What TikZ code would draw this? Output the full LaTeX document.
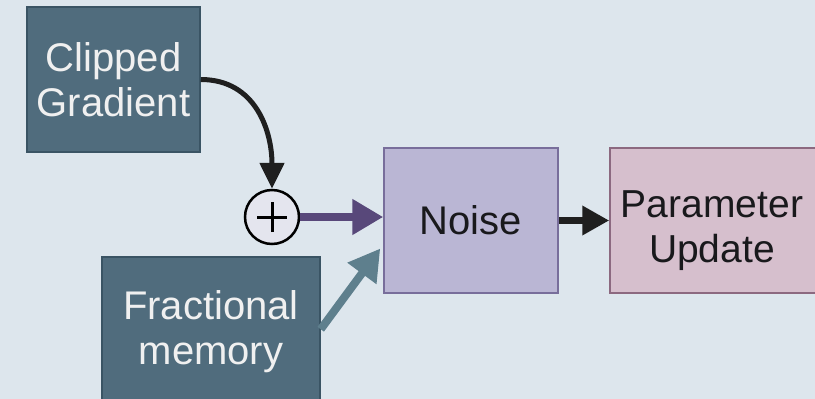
\documentclass[tikz,border=0pt]{standalone}
\usepackage{fontspec}
\setmainfont{Liberation Sans}
\usetikzlibrary{arrows.meta}

\definecolor{bgcol}{RGB}{221,230,237}
\definecolor{slatefill}{RGB}{80,108,125}
\definecolor{slateedge}{RGB}{58,84,100}
\definecolor{noisefill}{RGB}{186,182,212}
\definecolor{noiseedge}{RGB}{120,110,155}
\definecolor{paramfill}{RGB}{214,191,205}
\definecolor{paramedge}{RGB}{140,105,128}
\definecolor{sumfill}{RGB}{228,229,238}
\definecolor{purplearrow}{RGB}{88,72,122}
\definecolor{tealarrow}{RGB}{94,127,141}
\definecolor{inktext}{RGB}{25,25,28}

\tikzset{
  box/.style={draw, line width=1.5pt, rectangle, inner sep=0pt,
    align=center, font=\fontsize{40}{45}\selectfont},
  slatebox/.style={box, fill=slatefill, draw=slateedge, text=white!94!black},
  noisebox/.style={box, fill=noisefill, draw=noiseedge, text=inktext},
  parambox/.style={box, fill=paramfill, draw=paramedge, text=inktext},
  label/.style={inner sep=0pt, align=center, font=\fontsize{39}{45}\selectfont, text=inktext},
  sum/.style={circle, draw=black, line width=2.5pt, fill=sumfill,
    minimum size=54pt, inner sep=0pt},
  flow/.style={line width=8pt, -{Triangle[width=34pt,length=31pt]}},
}

\begin{document}
\begin{tikzpicture}[x=1pt,y=-1pt]
  \useasboundingbox (0,0) rectangle (815,399);
  \clip (0,0) rectangle (815,399);
  \fill[bgcol] (0,0) rectangle (815,399);

  % input blocks
  \node[slatebox, minimum width=173pt, minimum height=145pt] (cg) at (113.5,79.5)
    {Clipped\\Gradient};
  \node[slatebox, minimum width=218pt, minimum height=150pt] (fm) at (211,332)
    {Fractional\\memory};

  % summing junction
  \node[sum] (sum) at (272,217) {};
  \draw[line width=3pt] ([xshift=-15pt]sum.center) -- ([xshift=15pt]sum.center)
    ([yshift=-15pt]sum.center) -- ([yshift=15pt]sum.center);

  % processing blocks
  \node[noisebox, minimum width=174pt, minimum height=145pt] (noise) at (471,220.5)
    {Noise};
  \node[parambox, minimum width=215pt, minimum height=145pt] (pu) at (717.5,220.5) {};
  \node[label] (putext) at (712,231) {Parameter\\Update};

  % connectors
  \coordinate (cgout) at (cg.east);
  \draw[line width=5pt, black!88, -{Triangle[width=24pt,length=26pt]}]
    (cgout) to[out=0, in=90, looseness=1.1] (sum.north);

  \draw[flow, purplearrow] (sum.east) -- (sum.east -| noise.west);

  \path (fm.north east) ++(0,73) coordinate (fmout);
  \path (noise.west) ++(-3,28) coordinate (noisein);
  \draw[flow, tealarrow] (fmout) -- (noisein);

  \draw[black!88, line width=7pt, -{Triangle[width=28pt,length=27pt]}]
    (noise.east) -- (pu.west);
\end{tikzpicture}
\end{document}
